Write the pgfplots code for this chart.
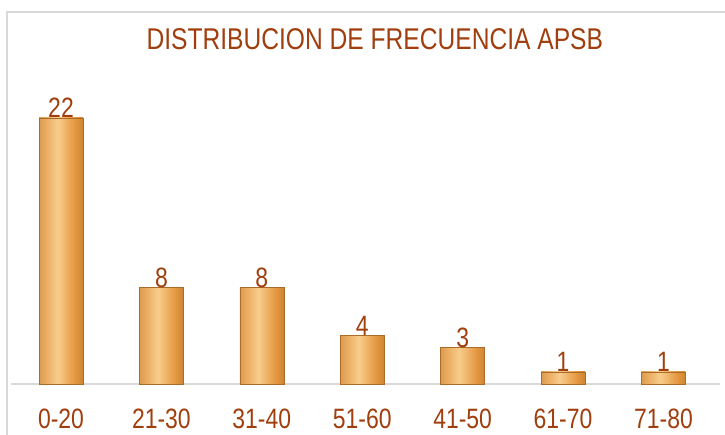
\documentclass[border=0pt]{standalone}
\usepackage{fontspec}
\setmainfont{Liberation Sans}[FakeStretch=0.82]
\usepackage{pgfplots}
\pgfplotsset{compat=1.18}

\definecolor{titlebrown}{RGB}{160,62,14}
\definecolor{gridgray}{RGB}{217,217,217}
\definecolor{g0}{RGB}{130,84,32}
\definecolor{g1}{RGB}{195,128,52}
\definecolor{g2}{RGB}{236,175,100}
\definecolor{g3}{RGB}{248,205,140}
\definecolor{g4}{RGB}{228,150,62}
\definecolor{g5}{RGB}{170,108,40}
\definecolor{g6}{RGB}{110,72,28}
\pgfdeclarehorizontalshading{bargold}{100bp}{color(0bp)=(g0); color(12bp)=(g1); color(34bp)=(g2); color(46bp)=(g3); color(66bp)=(g4); color(88bp)=(g5); color(100bp)=(g6)}

\pgfplotsset{goldbar/.style={ybar, bar width=44pt, bar shift=0pt,
    shading=bargold, draw=g5, line width=0.6pt}}

\begin{document}
\begin{tikzpicture}
  % page = 725 x 434, axis origin at pixel (10.8, 384)
  \useasboundingbox (-10.8pt,-50pt) rectangle (714.2pt,384pt);
  \draw[gridgray, line width=1.2pt] (-3.8pt,-60pt) -- (-3.8pt,372pt) -- (740pt,372pt);
  \begin{axis}[
      scale only axis,
      width=708.9pt,
      height=302.5pt,
      xmin=-0.5, xmax=6.56,
      ymin=0, ymax=25,
      axis y line=none,
      axis x line*=bottom,
      x axis line style={gridgray, line width=1.2pt, -},
      xtick={0,...,6},
      xticklabels={0-20,21-30,31-40,51-60,41-50,61-70,71-80},
      major tick length=0pt,
      xticklabel style={anchor=base, yshift=-44pt, text=titlebrown,
        font=\fontsize{28}{32}\selectfont},
      title={DISTRIBUCION DE FRECUENCIA APSB},
      title style={at={(364pt,339pt)}, anchor=center, text=titlebrown,
        font=\fontsize{30}{34}\selectfont},
      /pgf/number format/assume math mode=true,
      nodes near coords={\pgfmathprintnumber[assume math mode=true]{\pgfplotspointmeta}},
      every node near coord/.append style={anchor=base, yshift=0pt, text=titlebrown,
        font=\fontsize{28}{32}\selectfont},
      clip=false,
    ]
    % one plot per bar so that each bar gets its own shading
    \addplot[goldbar] coordinates {(0,22)};
    \addplot[goldbar] coordinates {(1,8)};
    \addplot[goldbar] coordinates {(2,8)};
    \addplot[goldbar] coordinates {(3,4)};
    \addplot[goldbar] coordinates {(4,3)};
    \addplot[goldbar] coordinates {(5,1)};
    \addplot[goldbar] coordinates {(6,1)};
  \end{axis}
\end{tikzpicture}
\end{document}
